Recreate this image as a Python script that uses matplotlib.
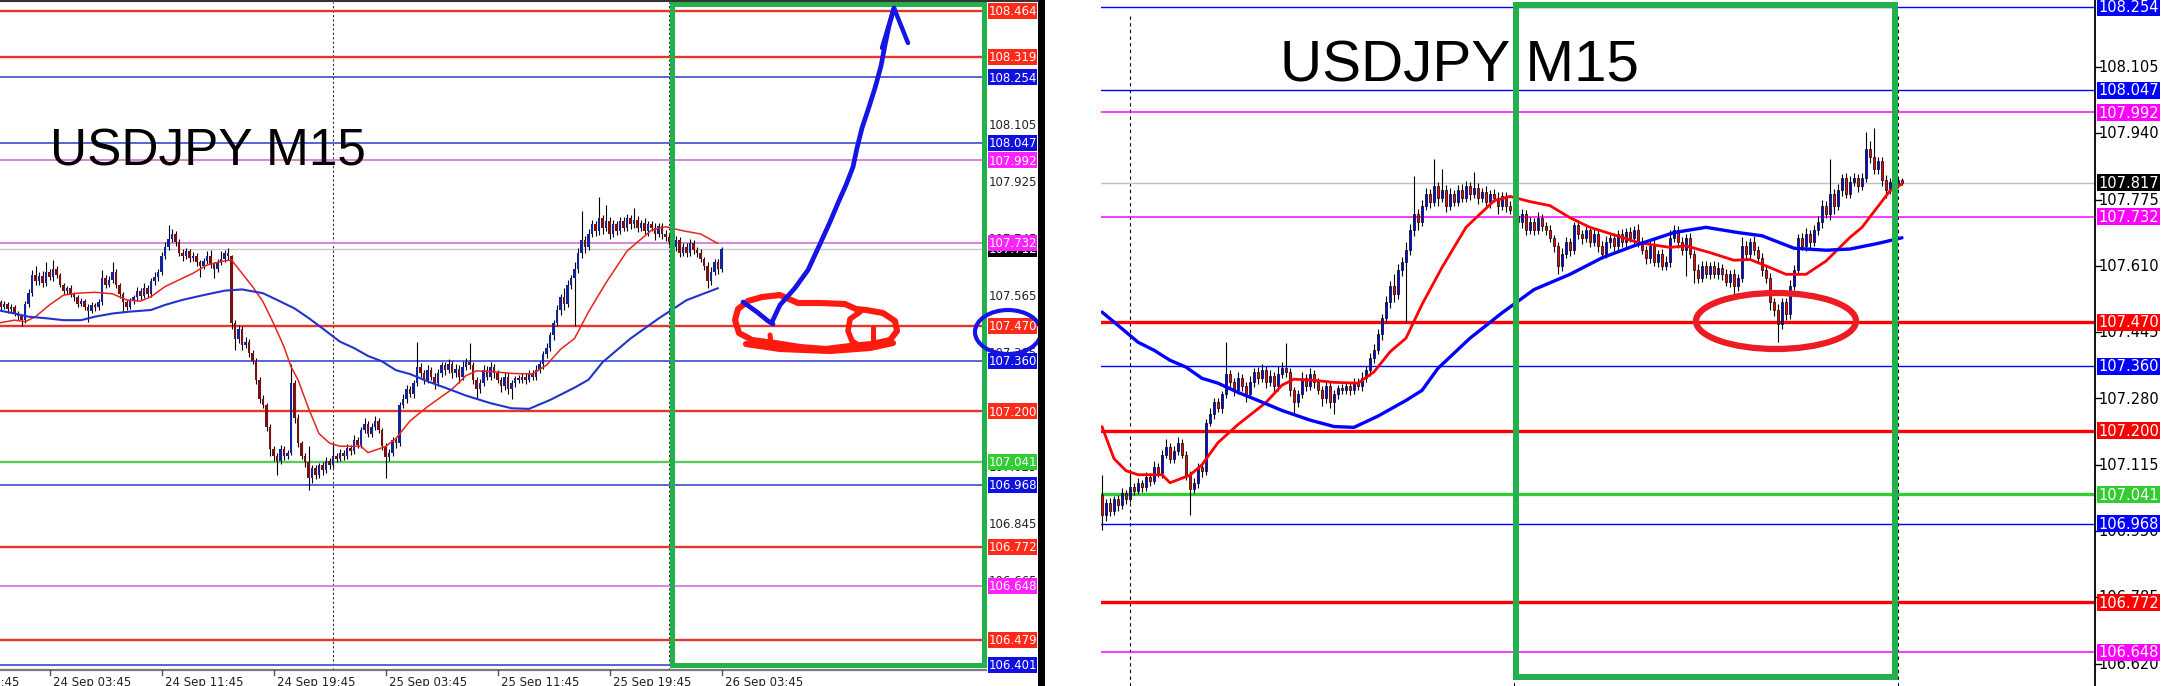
"""
USDJPY M15 - two MT4 screenshots side by side with hand drawn marks.
Bar index 0 = 24 Sep 00:00, one bar = 15 min.
"""
import numpy as np
import matplotlib.pyplot as plt
from matplotlib import transforms, font_manager
from matplotlib.patches import Rectangle, Ellipse

# ============================================================
# data
# ============================================================
FIRST_OPEN = 107.555
CLOSE = [
    107.545, 107.530, 107.538, 107.522, 107.528, 107.510, 107.500, 107.488, 107.540, 107.575,
    107.630, 107.610, 107.628, 107.605, 107.640, 107.625, 107.650, 107.630, 107.600, 107.580,
    107.588, 107.570, 107.560, 107.540, 107.548, 107.530, 107.518, 107.535, 107.528, 107.545,
    107.620, 107.600, 107.615, 107.640, 107.600, 107.570, 107.545, 107.530, 107.548, 107.560,
    107.580, 107.565, 107.590, 107.570, 107.610, 107.625, 107.640, 107.690, 107.720, 107.745,
    107.760, 107.735, 107.700, 107.690, 107.705, 107.685, 107.690, 107.670, 107.660, 107.675,
    107.690, 107.665, 107.650, 107.670, 107.680, 107.700, 107.690, 107.480, 107.430, 107.460,
    107.410, 107.420, 107.385, 107.360, 107.300, 107.240, 107.220, 107.150, 107.080, 107.060,
    107.045, 107.080, 107.060, 107.070, 107.290, 107.180, 107.100, 107.060, 107.040, 106.990,
    107.020, 107.000, 107.030, 107.015, 107.045, 107.030, 107.060, 107.050, 107.070, 107.060,
    107.085, 107.075, 107.110, 107.095, 107.140, 107.160, 107.130, 107.150, 107.170, 107.140,
    107.090, 107.055, 107.070, 107.110, 107.100, 107.220, 107.240, 107.270, 107.255, 107.290,
    107.340, 107.320, 107.300, 107.330, 107.310, 107.290, 107.320, 107.345, 107.330, 107.350,
    107.320, 107.335, 107.310, 107.340, 107.355, 107.345, 107.300, 107.270, 107.290, 107.330,
    107.310, 107.340, 107.320, 107.300, 107.280, 107.310, 107.270, 107.290, 107.305, 107.300,
    107.310, 107.300, 107.320, 107.310, 107.330, 107.350, 107.380, 107.400, 107.440, 107.480,
    107.520, 107.560, 107.540, 107.600, 107.620, 107.650, 107.700, 107.740, 107.720, 107.760,
    107.790, 107.770, 107.810, 107.780, 107.800, 107.760, 107.790, 107.770, 107.800, 107.780,
    107.810, 107.790, 107.805, 107.780, 107.795, 107.770, 107.790, 107.780, 107.760, 107.785,
    107.760, 107.750, 107.735, 107.720, 107.740, 107.700, 107.720, 107.700, 107.730, 107.710,
    107.700, 107.680, 107.660, 107.610, 107.640, 107.670, 107.650, 107.712, 107.690, 107.680,
    107.700, 107.670, 107.690, 107.660, 107.640, 107.670, 107.680, 107.660, 107.690, 107.670,
    107.695, 107.680, 107.700, 107.670, 107.650, 107.630, 107.660, 107.620, 107.640, 107.610,
    107.620, 107.680, 107.700, 107.670, 107.650, 107.680, 107.640, 107.600, 107.580, 107.610,
    107.590, 107.610, 107.590, 107.605, 107.590, 107.570, 107.590, 107.560, 107.580, 107.660,
    107.640, 107.670, 107.650, 107.630, 107.600, 107.580, 107.520, 107.500, 107.465, 107.520,
    107.490, 107.560, 107.600, 107.680, 107.660, 107.690, 107.670, 107.700, 107.720, 107.760,
    107.740, 107.790, 107.760, 107.800, 107.830, 107.790, 107.820, 107.830, 107.810, 107.830,
    107.900, 107.880, 107.850, 107.870, 107.825, 107.800, 107.820, 107.815, 107.825, 107.817,
]
# wick lengths above / below the body, in points (0.001)
WICK_UP = [
    10, 8, 12, 6, 10, 8, 6, 5, 10, 12,
    15, 29, 12, 15, 30, 10, 28, 10, 8, 6,
    8, 10, 6, 8, 10, 6, 8, 10, 8, 10,
    25, 10, 12, 30, 8, 6, 6, 8, 10, 8,
    12, 10, 15, 8, 12, 15, 10, 12, 15, 43,
    15, 10, 8, 12, 10, 8, 12, 10, 8, 10,
    15, 20, 8, 12, 25, 10, 15, 5, 10, 12,
    10, 15, 8, 10, 8, 10, 12, 8, 10, 12,
    10, 15, 12, 8, 60, 10, 12, 8, 10, 50,
    10, 12, 8, 10, 12, 8, 40, 10, 12, 8,
    12, 10, 15, 8, 12, 20, 10, 12, 15, 10,
    8, 10, 12, 10, 8, 10, 15, 12, 10, 8,
    80, 12, 10, 15, 10, 12, 15, 10, 12, 15,
    10, 15, 12, 20, 15, 62, 10, 8, 12, 15,
    12, 15, 10, 12, 10, 15, 12, 10, 8, 10,
    10, 12, 10, 12, 15, 10, 12, 15, 12, 10,
    15, 12, 30, 15, 12, 20, 15, 93, 12, 15,
    15, 12, 66, 10, 50, 12, 15, 10, 12, 15,
    12, 10, 38, 12, 10, 15, 10, 12, 15, 10,
    10, 12, 10, 15, 12, 10, 12, 10, 15, 10,
    10, 12, 8, 10, 15, 12, 10, 8, 12, 10,
    12, 10, 15, 10, 12, 15, 10, 12, 10, 12,
    10, 12, 10, 15, 12, 10, 12, 15, 10, 12,
    15, 20, 12, 10, 12, 10, 12, 10, 15, 12,
    12, 10, 12, 15, 10, 12, 10, 12, 10, 21,
    12, 10, 15, 10, 12, 10, 12, 10, 15, 10,
    10, 15, 12, 10, 12, 15, 10, 12, 15, 15,
    12, 86, 12, 15, 10, 12, 15, 12, 10, 12,
    43, 20, 73, 12, 10, 12, 10, 8, 6, 5,
]
WICK_DN = [
    8, 10, 6, 10, 8, 10, 12, 18, 8, 10,
    12, 10, 10, 12, 8, 10, 12, 10, 8, 10,
    10, 8, 10, 12, 8, 10, 35, 8, 10, 8,
    10, 12, 8, 10, 10, 12, 30, 10, 8, 10,
    10, 12, 8, 10, 8, 10, 12, 10, 8, 10,
    10, 12, 10, 15, 10, 12, 10, 12, 35, 10,
    10, 12, 30, 10, 8, 10, 12, 20, 36, 15,
    15, 10, 12, 10, 12, 15, 10, 12, 20, 15,
    45, 10, 12, 10, 8, 15, 12, 10, 15, 37,
    15, 12, 10, 15, 10, 12, 8, 10, 8, 12,
    10, 12, 8, 10, 12, 8, 10, 12, 10, 8,
    12, 65, 10, 12, 15, 10, 8, 12, 10, 12,
    10, 12, 15, 10, 12, 20, 10, 12, 15, 10,
    15, 10, 20, 12, 10, 12, 15, 30, 12, 10,
    12, 10, 15, 10, 20, 12, 15, 30, 12, 10,
    10, 12, 8, 10, 12, 10, 15, 12, 10, 15,
    12, 15, 20, 12, 15, 150, 12, 15, 20, 10,
    10, 15, 12, 20, 10, 15, 10, 12, 10, 12,
    12, 15, 10, 15, 12, 10, 15, 12, 20, 10,
    15, 12, 10, 12, 15, 12, 10, 12, 10, 12,
    12, 10, 15, 20, 12, 10, 15, 10, 12, 15,
    10, 12, 10, 15, 12, 10, 15, 12, 10, 12,
    12, 10, 15, 12, 10, 15, 12, 10, 12, 10,
    10, 12, 10, 15, 12, 65, 10, 32, 12, 10,
    10, 12, 10, 12, 15, 10, 12, 20, 12, 10,
    12, 10, 12, 10, 15, 12, 20, 15, 45, 12,
    15, 12, 10, 12, 10, 12, 15, 10, 12, 15,
    12, 15, 20, 12, 15, 10, 12, 10, 15, 12,
    12, 15, 10, 12, 15, 20, 10, 8, 10, 5,
]

# moving averages (bar index, price)
RED_MA_IDX = [0, 5, 8, 11, 15, 19, 23, 28, 33, 37, 41, 44, 48, 52, 56, 60, 64, 67, 70, 73,
              76, 79, 82, 84, 86, 89, 92, 95, 98, 104, 106, 111, 114, 118, 123, 130, 134, 137,
              142, 147, 153, 157, 161, 165, 169, 174, 180, 187, 191, 196, 201, 206, 211, 219,
              223, 231, 235, 241, 247, 251, 255, 260, 265, 270, 276, 279, 286, 289]
RED_MA_VAL = [107.478, 107.488, 107.483, 107.499, 107.536, 107.567, 107.573, 107.576, 107.571,
              107.552, 107.548, 107.562, 107.594, 107.615, 107.636, 107.662, 107.673, 107.678,
              107.636, 107.594, 107.546, 107.478, 107.404, 107.341, 107.300, 107.210, 107.130,
              107.100, 107.090, 107.090, 107.070, 107.089, 107.115, 107.170, 107.215, 107.270,
              107.313, 107.328, 107.325, 107.320, 107.318, 107.346, 107.396, 107.430, 107.514,
              107.606, 107.706, 107.772, 107.783, 107.770, 107.760, 107.730, 107.706, 107.681,
              107.668, 107.656, 107.660, 107.643, 107.624, 107.626, 107.610, 107.589, 107.589,
              107.622, 107.681, 107.706, 107.797, 107.814]
BLUE_MA_IDX = [0, 5, 9, 14, 19, 24, 28, 33, 38, 44, 48, 53, 59, 65, 70, 76, 80, 85, 89, 93,
               98, 102, 106, 110, 114, 118, 123, 128, 134, 141, 147, 152, 158, 165, 169, 173,
               181, 189, 197, 206, 214, 222, 232, 240, 248, 254, 262, 270, 276, 283, 289]
BLUE_MA_VAL = [107.520, 107.509, 107.499, 107.494, 107.488, 107.488, 107.499, 107.509, 107.515,
               107.520, 107.536, 107.552, 107.567, 107.581, 107.585, 107.573, 107.552, 107.525,
               107.495, 107.462, 107.420, 107.400, 107.375, 107.358, 107.330, 107.318, 107.295,
               107.275, 107.250, 107.226, 107.210, 107.208, 107.236, 107.275, 107.300, 107.355,
               107.430, 107.493, 107.551, 107.589, 107.630, 107.660, 107.693, 107.706, 107.693,
               107.685, 107.654, 107.649, 107.652, 107.666, 107.680]

# horizontal levels, by kind
LEFT_RED = [108.464, 108.319, 107.470, 107.200, 106.772, 106.479]
LEFT_BLUE = [108.254, 108.047, 107.360, 106.968, 106.401]
LEFT_PINK = [107.992, 107.732, 106.648]
LEFT_GREEN = [107.041]
LEFT_TICKS = [108.105, 107.925, 107.745, 107.565, 107.385, 107.205, 107.025,
              106.845, 106.665, 106.485]
LEFT_LAST_BAR = 207

RIGHT_RED = [107.470, 107.200, 106.772]
RIGHT_BLUE = [108.254, 108.047, 107.360, 106.968]
RIGHT_PINK = [107.992, 107.732, 106.648]
RIGHT_GREEN = [107.041]
RIGHT_TICKS = [108.105, 107.940, 107.775, 107.610, 107.445, 107.280, 107.115,
               106.950, 106.785, 106.620]
RIGHT_FIRST_BAR = 89

DAY_STARTS = [96, 192, 288]
DATE_TICK_IDX = [-17, 15, 47, 79, 111, 143, 175, 207]
DATE_LABELS = ["23 Sep 19:45", "24 Sep 03:45", "24 Sep 11:45", "24 Sep 19:45",
               "25 Sep 03:45", "25 Sep 11:45", "25 Sep 19:45", "26 Sep 03:45"]
TITLE = "USDJPY M15"

# ============================================================
# layout (pixels)
# ============================================================
W, H, DPI = 2164, 686, 100
LEFT_BOX = (0, 2, 986, 670)
RIGHT_BOX = (1101, 0, 2095, 686)
LEFT_XLIM, LEFT_YLIM = (0.857, 282.57), (106.384, 108.492)
RIGHT_XLIM, RIGHT_YLIM = (88.75, 337.25), (106.564, 108.272)

PAINT_GREEN = "#22b14c"
PAINT_RED = "#ed1c24"
PEN_BLUE = "#1414e6"

names = {f.name for f in font_manager.fontManager.ttflist}
NARROW = "Liberation Sans Narrow" in names

# ============================================================
# OHLC
# ============================================================
close = np.array(CLOSE)
open_ = np.concatenate([[FIRST_OPEN], close[:-1]])
high = np.maximum(open_, close) + np.array(WICK_UP) * 0.001
low = np.minimum(open_, close) - np.array(WICK_DN) * 0.001
idx = np.arange(len(close))

fig = plt.figure(figsize=(W / DPI, H / DPI), dpi=DPI)
fig.patch.set_facecolor("white")


def px_axes(box):
    x0, y0, x1, y1 = box
    return fig.add_axes([x0 / W, 1 - y1 / H, (x1 - x0) / W, (y1 - y0) / H])


axL = px_axes(LEFT_BOX)
axR = px_axes(RIGHT_BOX)
for ax, xl, yl in ((axL, LEFT_XLIM, LEFT_YLIM), (axR, RIGHT_XLIM, RIGHT_YLIM)):
    ax.set_axis_off()
    ax.set_xlim(*xl)
    ax.set_ylim(*yl)


def draw_candles(ax, i0, i1, width, bull, bear, edge, elw):
    s = slice(i0, i1 + 1)
    o, c = open_[s], close[s]
    ax.vlines(idx[s], low[s], high[s], color="black", lw=0.8, zorder=3)
    colors = np.where(c >= o, bull, bear)
    ax.bar(idx[s], np.maximum(np.abs(c - o), 0.0012), width, bottom=np.minimum(o, c),
           color=colors, edgecolor=edge, linewidth=elw, zorder=4)


def draw_ma(ax, xs, ys, lo, hi, color, lw):
    xs, ys = np.array(xs), np.array(ys)
    m = (xs >= lo) & (xs <= hi)
    ax.plot(xs[m], ys[m], color=color, lw=lw, zorder=5, solid_capstyle="round")


def price_label(ax, box, x0, x1, price, text, face, fg, fs, hpx, z):
    bx0, by0, bx1, by1 = box
    ylo, yhi = ax.get_ylim()
    ppp = (by1 - by0) / (yhi - ylo)
    fx0 = (x0 - bx0) / (bx1 - bx0)
    fx1 = (x1 - bx0) / (bx1 - bx0)
    tr = transforms.blended_transform_factory(ax.transAxes, ax.transData)
    if face is not None:
        ax.add_patch(Rectangle((fx0, price - hpx / ppp / 2), fx1 - fx0, hpx / ppp,
                               transform=tr, facecolor=face, edgecolor="none",
                               clip_on=False, zorder=z))
    ax.text((fx0 + fx1) / 2, price - 0.6 / ppp, text, transform=tr, ha="center",
            va="center", color=fg, fontsize=fs, clip_on=False, zorder=z + 0.5)


# ============================================================
# left chart
# ============================================================
left_styles = [(LEFT_RED, "#e6362c", 1.7), (LEFT_BLUE, "#4a58d4", 1.3),
               (LEFT_PINK, "#d884d8", 1.4), (LEFT_GREEN, "#5acb5a", 1.7)]
for levels, col, lw in left_styles:
    for p in levels:
        axL.axhline(p, color=col, lw=lw, zorder=2)
axL.axhline(close[LEFT_LAST_BAR], color="#c8c8c8", lw=1.0, zorder=1.5)
for d in DAY_STARTS:
    axL.axvline(d, color="#333333", lw=0.8, ls=(0, (2, 2)), zorder=1)

draw_candles(axL, 0, LEFT_LAST_BAR, 0.6, "#13249a", "#7c1010", "none", 0)
draw_ma(axL, RED_MA_IDX, RED_MA_VAL, 0, LEFT_LAST_BAR, "#e8241c", 1.1)
draw_ma(axL, BLUE_MA_IDX, BLUE_MA_VAL, 0, LEFT_LAST_BAR, "#2233cc", 1.5)

# bottom time axis
axL.plot([0, 1], [0, 0], transform=axL.transAxes, color="#7a7a7a", lw=1.6, clip_on=False)
trx = transforms.blended_transform_factory(axL.transData, axL.transAxes)
for ti, lab in zip(DATE_TICK_IDX, DATE_LABELS):
    axL.plot([ti, ti], [0, -0.007], transform=trx, color="#555555", lw=1, clip_on=False)
    axL.text(ti + 0.9, -0.009, lab, transform=trx, ha="left", va="top", fontsize=8.5,
             color="#222222", clip_on=False)

z = 6
for p in LEFT_TICKS:
    price_label(axL, LEFT_BOX, 988, 1037, p, f"{p:.3f}", None, "#222222", 8.5, 16, z)
z += 1
price_label(axL, LEFT_BOX, 988, 1037, close[LEFT_LAST_BAR], f"{close[LEFT_LAST_BAR]:.3f}",
            "black", "white", 8.5, 16, z)
box_faces = [(LEFT_RED, "#ff2a1a"), (LEFT_BLUE, "#1010e0"), (LEFT_PINK, "#ff22ff"),
             (LEFT_GREEN, "#33cc33")]
for levels, face in box_faces:
    for p in levels:
        z += 1
        price_label(axL, LEFT_BOX, 988, 1037, p, f"{p:.3f}", face, "white", 8.5, 16, z)

# ============================================================
# right chart
# ============================================================
right_styles = [(RIGHT_RED, "#ff0000", 2.4), (RIGHT_BLUE, "#0000ff", 1.0),
                (RIGHT_PINK, "#ff00ff", 1.1), (RIGHT_GREEN, "#33cc33", 2.4)]
for levels, col, lw in right_styles:
    for p in levels:
        axR.axhline(p, color=col, lw=lw, zorder=2)
axR.axhline(close[-1], color="#c0c0c0", lw=1.0, zorder=1.5)
for d in DAY_STARTS:
    axR.plot([d, d], [RIGHT_YLIM[0], 108.240], color="black", lw=0.8, ls=(0, (3, 3)),
             zorder=1)

draw_candles(axR, RIGHT_FIRST_BAR, len(close) - 1, 0.72, "#0000ff", "#ff0000", "black", 0.5)
draw_ma(axR, RED_MA_IDX, RED_MA_VAL, RIGHT_FIRST_BAR, len(close), "#ff0000", 2.0)
draw_ma(axR, BLUE_MA_IDX, BLUE_MA_VAL, RIGHT_FIRST_BAR, len(close), "#0000ff", 2.4)

axR.plot([1, 1], [0, 1], transform=axR.transAxes, color="black", lw=1.3, clip_on=False)
try_ = transforms.blended_transform_factory(axR.transAxes, axR.transData)
z = 6
for p in RIGHT_TICKS:
    axR.plot([1, 1.006], [p, p], transform=try_, color="black", lw=1, clip_on=False)
    price_label(axR, RIGHT_BOX, 2097, 2160, p, f"{p:.3f}", None, "black", 10.5, 17, z)
z += 1
price_label(axR, RIGHT_BOX, 2097, 2160, close[-1], f"{close[-1]:.3f}", "black", "white",
            10.5, 17, z)
box_faces = [(RIGHT_RED, "#ff0000"), (RIGHT_BLUE, "#0000ff"), (RIGHT_PINK, "#ff00ff"),
             (RIGHT_GREEN, "#33cc33")]
for levels, face in box_faces:
    for p in levels:
        z += 1
        price_label(axR, RIGHT_BOX, 2097, 2160, p, f"{p:.3f}", face, "white", 10.5, 17, z)

# ============================================================
# hand drawn marks, titles (pixel overlay)
# ============================================================
ov = fig.add_axes([0, 0, 1, 1], zorder=10)
ov.set_xlim(0, W)
ov.set_ylim(H, 0)
ov.set_axis_off()
ov.patch.set_alpha(0)

if NARROW:
    ov.text(50, 165, TITLE, family="Liberation Sans Narrow", fontsize=44, va="baseline")
else:
    ov.text(50, 165, TITLE, family="Liberation Sans", fontsize=37, va="baseline")
ov.text(1280, 81, TITLE, family="Liberation Sans", fontsize=42, va="baseline")

ov.add_patch(Rectangle((671.5, 4), 312, 661, fill=False, edgecolor=PAINT_GREEN, lw=3.6))
ov.add_patch(Rectangle((1515.5, 5), 379.5, 672, fill=False, edgecolor=PAINT_GREEN, lw=4.3))

scribble = [(780, 295), (762, 297), (748, 301), (738, 309), (735, 320), (739, 333), (752, 340),
            (775, 343), (800, 347), (826, 349), (850, 346), (872, 344), (890, 340), (897, 331),
            (895, 321), (883, 313), (866, 310), (856, 309), (845, 304), (820, 303), (798, 303),
            (782, 296)]
ov.plot(*zip(*scribble), color="#ff1a10", lw=4.4, solid_joinstyle="round", solid_capstyle="round")
ov.plot([746, 780, 830, 870, 893], [344, 349, 351, 348, 343], color="#ff1a10", lw=4.4,
        solid_capstyle="round")
ov.plot([860, 850, 848, 852, 858], [312, 319, 331, 341, 345], color="#ff1a10", lw=4.0,
        solid_capstyle="round")
ov.plot([873, 873], [327, 341], color="#ff1a10", lw=3.6, solid_capstyle="round")
ov.plot([770, 771], [335, 343], color="#ff1a10", lw=3.6, solid_capstyle="round")

arrow = [(772, 322), (780, 305), (795, 288), (808, 270), (820, 244), (830, 222), (838, 203),
         (846, 185), (853, 167), (857, 148), (862, 128), (868, 110), (875, 88), (881, 66),
         (885, 45), (889, 26), (894, 8)]
ov.plot(*zip(*arrow), color=PEN_BLUE, lw=3.4, solid_capstyle="round", solid_joinstyle="round")
ov.plot([743, 757, 768, 773], [302, 312, 321, 324], color=PEN_BLUE, lw=3.4, solid_capstyle="round")
ov.plot([882, 894, 908], [48, 8, 43], color=PEN_BLUE, lw=3.2, solid_capstyle="round",
        solid_joinstyle="round")
ov.add_patch(Ellipse((1008, 332), 66, 44, fill=False, edgecolor=PEN_BLUE, lw=3.0))
ov.add_patch(Ellipse((1776, 321), 160, 56, fill=False, edgecolor=PAINT_RED, lw=4.5))

# window frame between the two screenshots
ov.add_patch(Rectangle((1038, 0), 7, H, facecolor="black", edgecolor="none"))
ov.plot([0, 1038], [0.8, 0.8], color="#333333", lw=1.5)

fig.savefig("out.png", dpi=DPI, facecolor="white")
